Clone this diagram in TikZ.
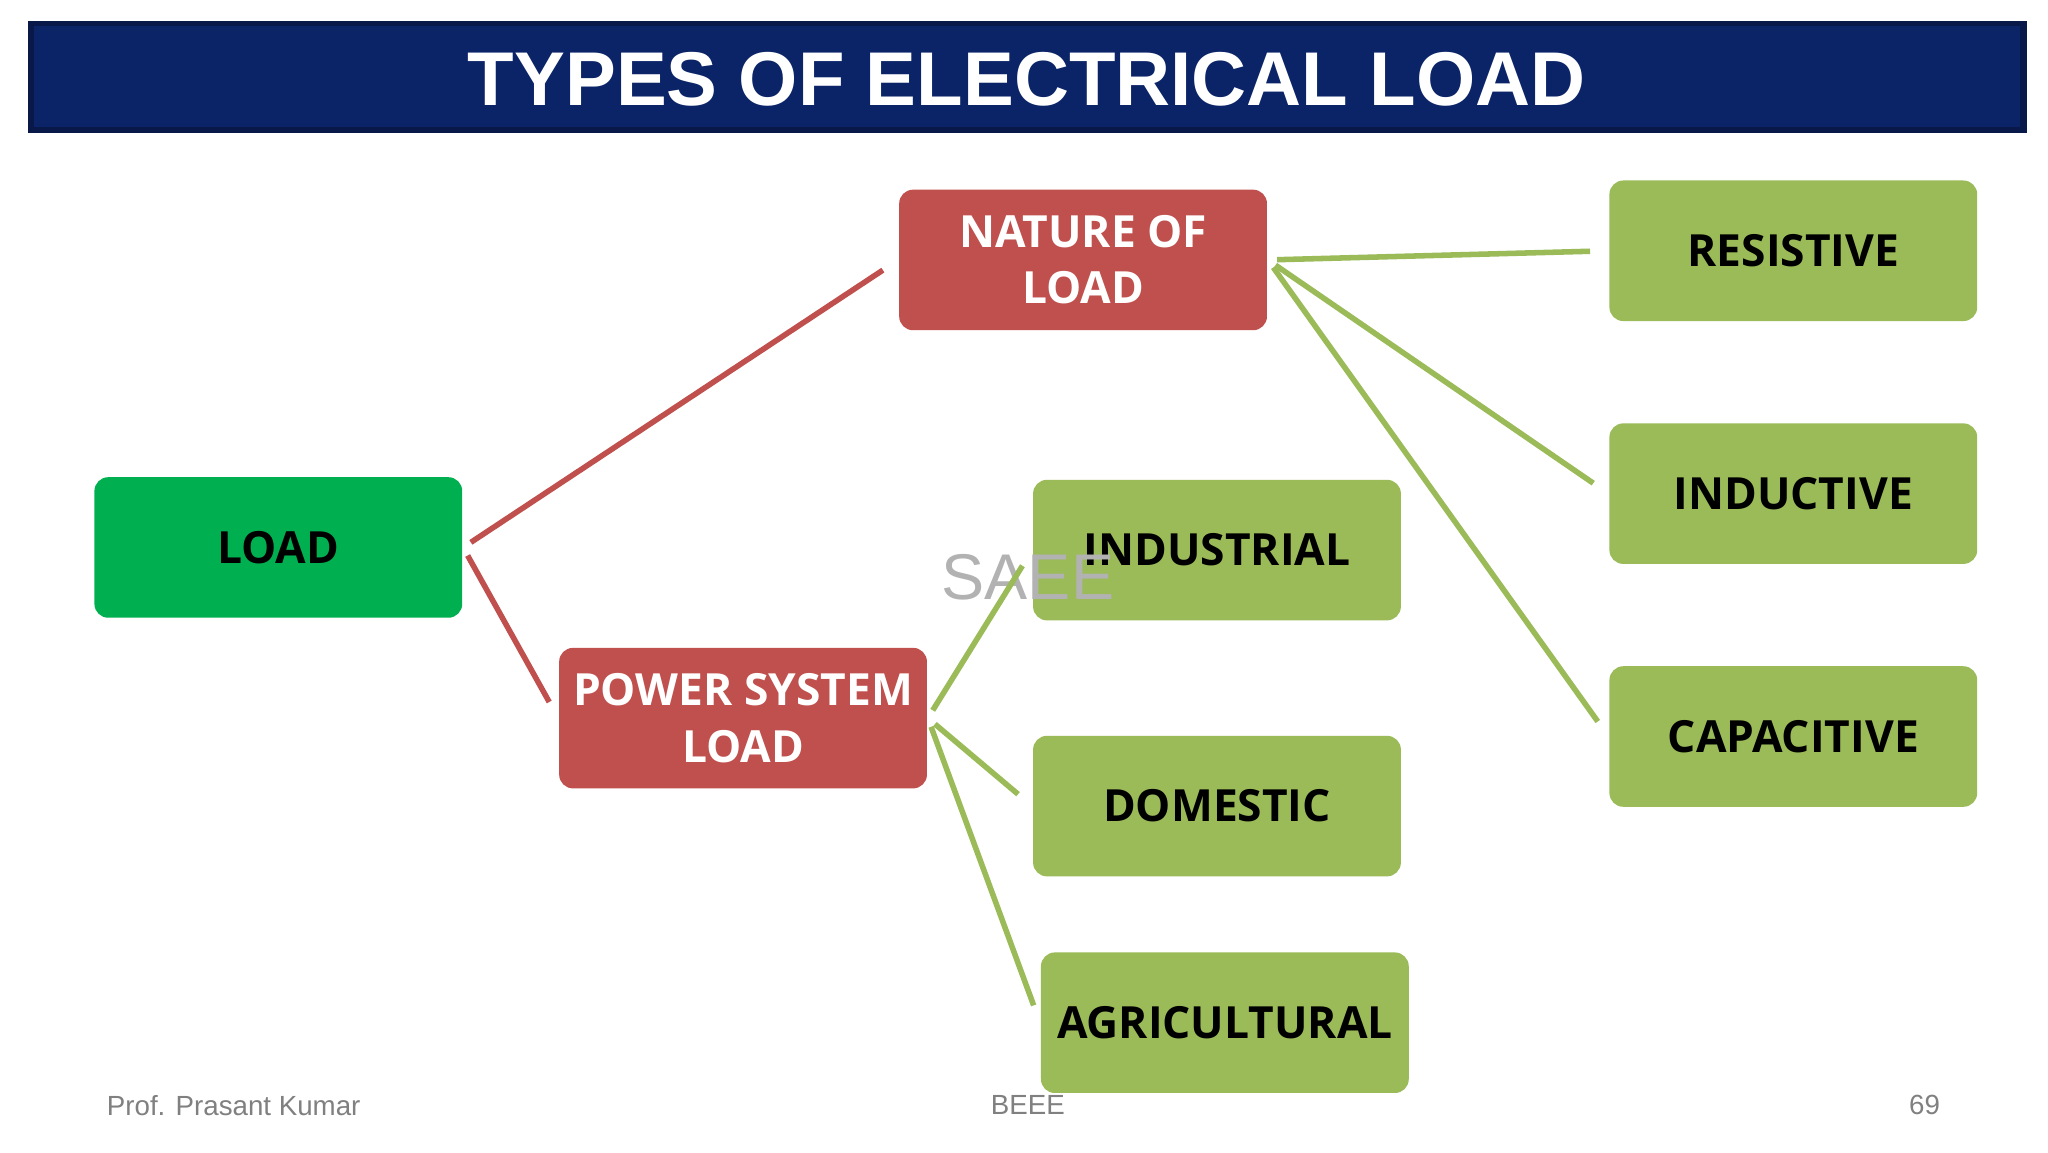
\documentclass[tikz,border=0pt]{standalone}
\usepackage{fontspec}
\setmainfont{Open Sans}
\newfontfamily\arialfont{Liberation Sans}
\usetikzlibrary{positioning}
\definecolor{loadgreen}{HTML}{00B050}
\definecolor{olivebox}{HTML}{9BBB59}
\definecolor{redbox}{HTML}{C0504D}
\definecolor{navybar}{HTML}{0B2468}
\tikzset{mybox/.style={rounded corners=3pt, inner sep=1pt, minimum width=2.8cm, minimum height=1.07cm, align=center, font=\fontsize{9.6}{12.2}\selectfont\bfseries}}
\tikzset{myboxRed/.style={mybox, fill=redbox, text=white}}
\tikzset{myboxOlive/.style={mybox, fill=olivebox, text=black}}
\tikzset{myboxGreen/.style={mybox, fill=loadgreen, text=black}}
\tikzset{redline/.style={redbox, line width=1.2pt}}
\tikzset{oliveline/.style={olivebox, line width=1.2pt}}
\begin{document}
\begin{tikzpicture}[x=0.01cm, y=-0.01cm]
\useasboundingbox (0,0) rectangle (1560,877.5);
\fill[white] (0,0) rectangle (1560,877.5);

% title bar
\fill[navybar!70!black] (21,16) rectangle (1544,101);
\fill[navybar] (26,20) rectangle (1539,97);
\node[text=white, font=\arialfont\fontsize{16.5}{20}\selectfont\bfseries] (title) at (782,60) {TYPES OF ELECTRICAL LOAD};

\node[myboxGreen] (load) at (212,417) {LOAD};
\node[myboxRed] (nature) at (825,198) {NATURE OF\\LOAD};
\node[myboxRed] (power) at (566,547) {POWER SYSTEM\\LOAD};
\node[myboxOlive] (industrial) at (927,419) {INDUSTRIAL};
\node[myboxOlive] (domestic) at (927,614) {DOMESTIC};
\node[myboxOlive] (agri) at (933,779) {AGRICULTURAL};
\node[myboxOlive] (resistive) at (1366,191) {RESISTIVE};
\node[myboxOlive] (inductive) at (1366,376) {INDUCTIVE};
\node[myboxOlive] (capacitive) at (1366,561) {CAPACITIVE};

\node[text=gray!60, font=\arialfont\fontsize{14}{16}\selectfont] (saee) at (783,440) {SAEE};

\draw[redline, shorten <=2pt, shorten >=4pt] (load.east) -- (nature.west);
\draw[redline, shorten <=2pt, shorten >=4pt] (load.east) -- (power.west);
\draw[oliveline, shorten <=2pt, shorten >=4pt] (nature.east) -- (resistive.west);
\draw[oliveline, shorten <=2pt, shorten >=4pt] (nature.east) -- (inductive.west);
\draw[oliveline, shorten <=2pt, shorten >=4pt] (nature.east) -- (capacitive.west);
\draw[oliveline, shorten <=2pt, shorten >=4pt] (power.east) -- (industrial.west);
\draw[oliveline, shorten <=2pt, shorten >=4pt] (power.east) -- (domestic.west);
\draw[oliveline, shorten <=2pt, shorten >=4pt] (power.east) -- (agri.west);

% footer
\node[text=gray, font=\arialfont\fontsize{6}{8}\selectfont] (author) at (178,842) {Prof. Prasant Kumar};
\node[text=gray, font=\arialfont\fontsize{6}{8}\selectfont] (course) at (783,842) {BEEE};
\node[text=gray, font=\arialfont\fontsize{6}{8}\selectfont] (page) at (1466,842) {69};
\end{tikzpicture}
\end{document}
